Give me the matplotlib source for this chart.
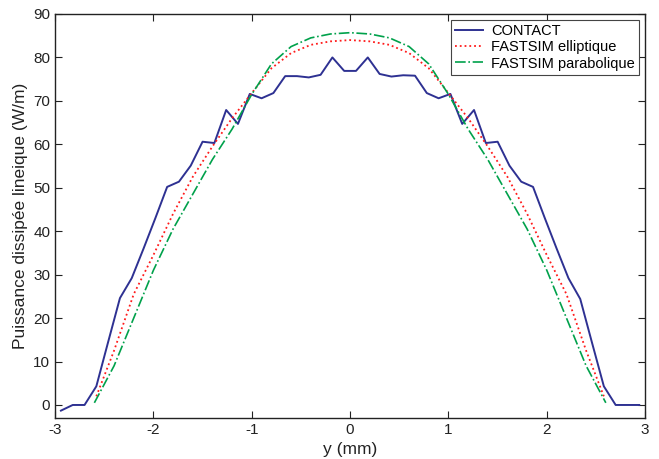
import numpy as np
import matplotlib
matplotlib.use('Agg')
import matplotlib.pyplot as plt

plt.rcParams['font.family'] = ['Liberation Sans', 'DejaVu Sans']
plt.rcParams['axes.unicode_minus'] = False

# CONTACT (solid blue)
y_contact = [-2.94, -2.82, -2.70, -2.58, -2.46, -2.34, -2.22, -2.10, -1.98, -1.86,
             -1.74, -1.62, -1.50, -1.38, -1.26, -1.14, -1.02, -0.90, -0.78, -0.66,
             -0.54, -0.42, -0.30, -0.18, -0.06, 0.06, 0.18, 0.30, 0.42, 0.54,
             0.66, 0.78, 0.90, 1.02, 1.14, 1.26, 1.38, 1.50, 1.62, 1.74,
             1.86, 1.98, 2.10, 2.22, 2.34, 2.46, 2.58, 2.70, 2.82, 2.94]
p_contact = [-1.3, 0.0, 0.0, 4.3, 14.5, 24.6, 29.2, 36.0, 43.0, 50.2,
             51.4, 55.1, 60.6, 60.3, 67.9, 64.7, 71.6, 70.6, 71.8, 75.7,
             75.7, 75.4, 76.0, 80.0, 76.9, 76.9, 80.0, 76.2, 75.6, 75.9,
             75.8, 71.8, 70.6, 71.6, 64.7, 67.9, 60.3, 60.6, 55.1, 51.4,
             50.2, 43.0, 36.0, 29.2, 24.4, 14.3, 4.3, 0.0, 0.0, 0.0]

# FASTSIM elliptique (red dotted)
y_ell = [-2.58, -2.4, -2.2, -2.0, -1.8, -1.6, -1.4, -1.2, -1.0, -0.8, -0.6, -0.4, -0.2, 0.0,
         0.2, 0.4, 0.6, 0.8, 1.0, 1.2, 1.4, 1.6, 1.8, 2.0, 2.2, 2.4, 2.58]
p_ell = [2.0, 12.5, 25.5, 34.5, 44.0, 52.5, 59.5, 66.0, 71.8, 77.5, 81.0, 82.9, 83.7, 84.0,
         83.7, 82.9, 81.0, 77.5, 71.8, 66.0, 59.5, 52.5, 44.0, 34.5, 25.5, 12.5, 2.0]

# FASTSIM parabolique (green dash-dot)
y_par = [-2.6, -2.4, -2.2, -2.0, -1.8, -1.6, -1.4, -1.2, -1.0, -0.8, -0.6, -0.4, -0.2, 0.0,
         0.2, 0.4, 0.6, 0.8, 1.0, 1.2, 1.4, 1.6, 1.8, 2.0, 2.2, 2.4, 2.6]
p_par = [0.5, 9.0, 20.0, 31.0, 40.5, 48.5, 56.5, 63.5, 71.5, 78.5, 82.5, 84.5, 85.4, 85.7,
         85.4, 84.5, 82.5, 78.5, 71.5, 63.5, 56.5, 48.5, 40.5, 31.0, 20.0, 9.0, 0.5]

fig = plt.figure(figsize=(6.59, 4.59), dpi=100)
ax = fig.add_axes([0.0835, 0.0893, 0.8955, 0.8802])

ax.plot(y_contact, p_contact, '-', color='#2e3192', linewidth=1.4, label='CONTACT')
ax.plot(y_ell, p_ell, ':', color='#ff1a1a', linewidth=1.3, label='FASTSIM elliptique')
ax.plot(y_par, p_par, '-.', color='#00a14b', linewidth=1.2, label='FASTSIM parabolique')

ax.set_xlim(-3, 3)
ax.set_ylim(-3, 90)
ax.set_xticks(np.arange(-3, 4, 1))
ax.set_yticks(np.arange(0, 100, 10))
ax.tick_params(direction='in', top=True, right=True, length=5, labelsize=11, colors='#222222')
for s in ax.spines.values():
    s.set_linewidth(1.0)
    s.set_color('#222222')

ax.set_xlabel('y (mm)', fontsize=12.5, color='#222222', labelpad=4)
ax.set_ylabel('Puissance dissipée lineique (W/m)', fontsize=12.5, color='#222222', labelpad=4)

leg = ax.legend(loc='upper right', fontsize=10.5, fancybox=False, framealpha=1,
                edgecolor='#444444', handlelength=1.9, handletextpad=0.55,
                borderpad=0.3, labelspacing=0.15, borderaxespad=0.4)
leg.get_frame().set_linewidth(0.8)

plt.savefig('out.png', dpi=100)
